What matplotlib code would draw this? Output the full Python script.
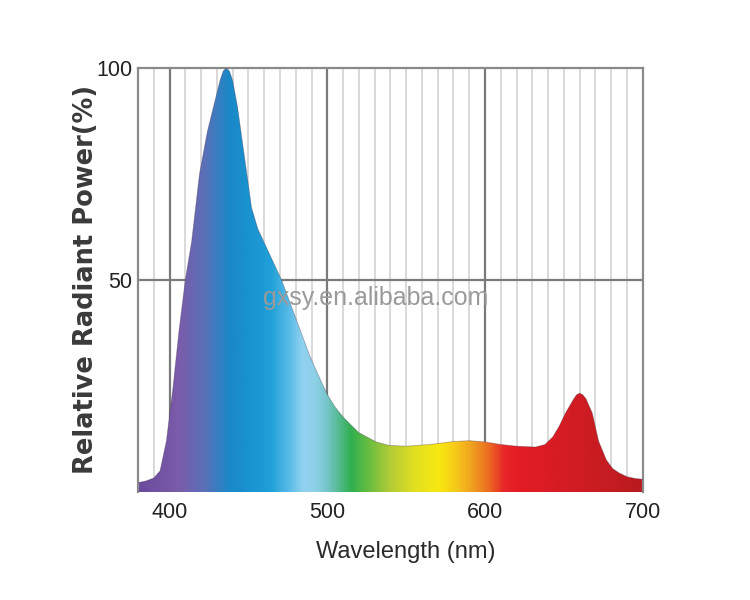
import numpy as np
import matplotlib
matplotlib.use("Agg")
import matplotlib.pyplot as plt
from matplotlib.colors import LinearSegmentedColormap

# ---- data ----
wavelength = [380, 385, 390, 394, 398, 402, 406, 410, 414, 419, 424, 428, 432, 434, 436,
              438, 440, 443, 446, 449, 452, 456, 461, 466, 471, 478, 484, 489, 495, 500,
              505, 510, 515, 520, 526, 531, 539, 550, 565, 580, 590, 600, 610, 620,
              632, 638, 643, 647, 651, 656, 658, 660, 662, 664, 668, 672, 677, 681, 685, 690,
              695, 700]
power = [2.2, 2.6, 3.3, 5.0, 12.0, 24.0, 38.0, 50.0, 59.0, 75.0, 85.0, 91.0, 97.0, 99.2, 100.0,
         99.2, 97.0, 91.0, 83.0, 75.0, 67.0, 62.0, 58.0, 54.0, 50.0, 43.0, 37.0, 32.0, 27.0, 23.0,
         20.0, 17.7, 15.8, 14.0, 12.8, 11.8, 11.0, 10.8, 11.2, 11.9, 12.1, 11.8, 11.2, 10.8,
         10.6, 11.2, 13.0, 15.5, 18.6, 21.8, 22.9, 23.3, 22.9, 22.0, 18.6, 12.0, 7.5, 5.5, 4.5, 3.6,
         3.2, 3.0]

x_ticks = [400, 500, 600, 700]
y_ticks = [50, 100]
x_label = "Wavelength (nm)"
y_label = "Relative Radiant Power(%)"
watermark = "gxsy.en.alibaba.com"

# spectral colours along the wavelength axis (wavelength, colour)
spectrum = [
    (380, "#6a4a9c"), (405, "#7a5caa"), (422, "#5a70b8"), (437, "#1a88c8"),
    (452, "#1a94d2"), (464, "#20a0d8"), (476, "#5cbce8"), (484, "#90d2f0"),
    (492, "#8ed0e8"), (500, "#74c4c8"), (515, "#30b050"), (527, "#6cbe40"),
    (540, "#b4cc36"), (556, "#e2e020"), (571, "#f8e810"), (582, "#f6c81a"),
    (592, "#f0a020"), (603, "#ec6a22"), (612, "#e8282a"), (620, "#e41c24"),
    (645, "#d81c24"), (687, "#c01c20"), (700, "#b81a1e"),
]

fig = plt.figure(figsize=(7.5, 6), dpi=100)
ax = fig.add_axes([0.184, 0.18, 0.673, 0.707])
ax.set_xlim(380, 700)
ax.set_ylim(0, 100)

# grid
for xv in range(390, 700, 10):
    major = xv % 100 == 0
    ax.axvline(xv, color="#7a7a7a" if major else "#cfcfcf",
               lw=1.6 if major else 1.1, zorder=1)
ax.axhline(50, color="#7a7a7a", lw=1.6, zorder=1)

# gradient fill clipped to the curve
lo, hi = spectrum[0][0], spectrum[-1][0]
cmap = LinearSegmentedColormap.from_list(
    "spec", [((p - lo) / (hi - lo), c) for p, c in spectrum])
grad = np.linspace(0, 1, 800).reshape(1, -1)
poly = ax.fill_between(wavelength, 0, power, color="none", lw=0, zorder=2)
img = ax.imshow(grad, cmap=cmap, aspect="auto", extent=(lo, hi, 0, 100),
                origin="lower", zorder=2, interpolation="bilinear")
path = poly.get_paths()[0]
img.set_clip_path(path, transform=ax.transData)
ax.plot(wavelength, power, color="#402a40", lw=0.6, alpha=0.35, zorder=3)

for s in ax.spines.values():
    s.set_color("#8a8a8a")
    s.set_linewidth(1.6)
ax.spines["bottom"].set_visible(False)

ax.set_xticks(x_ticks)
ax.set_yticks(y_ticks)
ax.tick_params(length=0)
ax.tick_params(axis="y", pad=4)
ax.tick_params(axis="x", pad=7)
for lab in ax.get_xticklabels() + ax.get_yticklabels():
    lab.set_family(["Liberation Sans", "DejaVu Sans"])
    lab.set_fontsize(15.5)
    lab.set_color("#222222")

ax.set_xlabel(x_label, family=["Liberation Sans", "DejaVu Sans"], fontsize=17,
              color="#2a2a2a", va="center")
ax.xaxis.set_label_coords(0.531, -0.142)
ax.set_ylabel(y_label, family=["DejaVu Sans"], fontsize=18.5,
              fontweight="bold", color="#3a3a3a", va="center")
ax.yaxis.set_label_coords(-0.103, 0.5)

ax.text(0.47, 0.458, watermark, transform=ax.transAxes, ha="center", va="center",
        family=["Liberation Sans", "DejaVu Sans"], fontsize=18, color="#9a9a9a",
        zorder=5)

fig.savefig("out.png", dpi=100, facecolor="white")
